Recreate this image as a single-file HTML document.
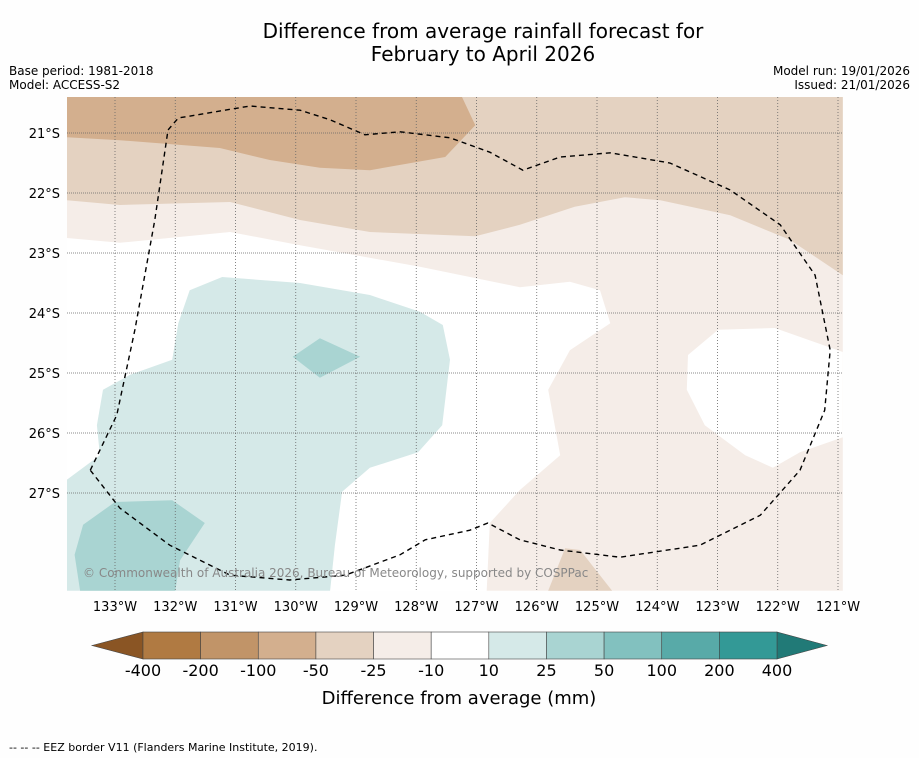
<!DOCTYPE html>
<html><head><meta charset="utf-8"><style>
body{margin:0;background:#fff;font-family:"Liberation Sans",sans-serif;}
svg text{font-family:"DejaVu Sans","Liberation Sans",sans-serif;}
</style></head><body>
<svg id="chart" width="919" height="758" viewBox="0 0 919 758" xmlns="http://www.w3.org/2000/svg">
<rect width="919" height="758" fill="#fefefe"/>
<text x="483" y="38" font-size="20" text-anchor="middle">Difference from average rainfall forecast for</text>
<text x="483" y="61" font-size="20" text-anchor="middle">February to April 2026</text>
<text x="9" y="75" font-size="12">Base period: 1981-2018</text>
<text x="9" y="89" font-size="12">Model: ACCESS-S2</text>
<text x="910" y="75" font-size="12" text-anchor="end">Model run: 19/01/2026</text>
<text x="910" y="89" font-size="12" text-anchor="end">Issued: 21/01/2026</text>
<defs><clipPath id="mapclip"><rect x="67" y="97" width="776" height="494"/></clipPath></defs>
<g id="map" clip-path="url(#mapclip)"><rect x="67" y="97" width="776" height="494" fill="#fff"/></g>
<g id="grid"></g>
<g id="eez"></g>
<text x="83" y="577" font-size="12" fill="#888">© Commonwealth of Australia 2026, Bureau of Meteorology, supported by COSPPac</text>
<g id="axes"></g>
<g id="cbar"></g>
<text x="459" y="704" font-size="18" text-anchor="middle">Difference from average (mm)</text>
<text x="9" y="751" font-size="11">--  --  -- EEZ border V11 (Flanders Marine Institute, 2019).</text>
</svg>
<script>
const lonTicks=[-133,-132,-131,-130,-129,-128,-127,-126,-125,-124,-123,-122,-121];
const latTicks=[-21,-22,-23,-24,-25,-26,-27];
const levelLabels=["-400","-200","-100","-50","-25","-10","10","25","50","100","200","400"];
const levelColors=["#b07a42","#c19468","#d3af8e","#e4d2c1","#f5ede8","#ffffff","#d5e9e8","#a9d4d2","#82c1bf","#58aaa8","#339996"];
const extLow="#8a5524", extHigh="#217a77";
// contour regions [lon,lat]
const regionM10=[[-133.8,-20.4],[-120.92,-20.4],[-120.92,-28.63],[-126.83,-28.63],[-126.78,-27.5],[-126.28,-26.95],[-125.61,-26.37],[-125.81,-25.28],[-125.45,-24.62],[-124.78,-24.17],[-124.95,-23.62],[-125.45,-23.48],[-126.28,-23.57],[-127.94,-23.23],[-129.93,-22.87],[-131.09,-22.65],[-132.92,-22.83],[-133.8,-22.75]];
const holeWhite=[[-122.99,-24.28],[-122.05,-24.25],[-120.92,-24.65],[-120.92,-26.07],[-121.63,-26.32],[-122.08,-26.58],[-122.54,-26.37],[-123.21,-25.87],[-123.51,-25.28],[-123.49,-24.7]];
const regionM25=[[-133.8,-20.4],[-120.92,-20.4],[-120.92,-23.37],[-121.8,-22.78],[-122.79,-22.37],[-123.95,-22.12],[-124.54,-22.07],[-125.37,-22.23],[-126.28,-22.53],[-127.02,-22.72],[-128.77,-22.65],[-129.93,-22.45],[-131.09,-22.15],[-132.92,-22.2],[-133.8,-22.12]];
const regionM25b=[[-125.81,-28.63],[-125.53,-27.92],[-125.28,-27.95],[-124.75,-28.63]];
const regionM50=[[-133.8,-20.4],[-127.24,-20.4],[-127.02,-20.87],[-127.52,-21.4],[-128.77,-21.62],[-129.6,-21.58],[-130.43,-21.45],[-131.26,-21.25],[-132.92,-21.12],[-133.8,-21.07]];
const regionP10=[[-133.8,-26.78],[-133.25,-26.37],[-133.3,-25.87],[-133.2,-25.28],[-132.75,-25.03],[-132.05,-24.78],[-131.95,-24.17],[-131.76,-23.62],[-131.22,-23.4],[-129.93,-23.5],[-128.77,-23.7],[-127.94,-23.98],[-127.56,-24.2],[-127.44,-24.78],[-127.57,-25.87],[-127.97,-26.32],[-128.77,-26.58],[-129.23,-26.98],[-129.35,-27.87],[-129.43,-28.63],[-133.8,-28.63]];
const regionP25a=[[-133.53,-27.53],[-133,-27.15],[-132.05,-27.12],[-131.51,-27.5],[-131.92,-28.12],[-132,-28.63],[-133.58,-28.63],[-133.67,-28.03]];
const regionP25b=[[-130.05,-24.73],[-129.6,-24.42],[-128.93,-24.73],[-129.6,-25.08]];
const eezLine=[[-133.41,-26.62],[-132.97,-25.7],[-132.67,-24.28],[-132.34,-22.45],[-132.12,-20.95],[-131.95,-20.75],[-130.76,-20.55],[-129.93,-20.62],[-129.43,-20.78],[-128.85,-21.03],[-128.27,-20.98],[-127.44,-21.08],[-126.78,-21.32],[-126.23,-21.62],[-125.61,-21.4],[-124.78,-21.33],[-123.79,-21.5],[-122.79,-21.95],[-121.96,-22.53],[-121.38,-23.37],[-121.13,-24.62],[-121.22,-25.62],[-121.63,-26.62],[-122.29,-27.37],[-123.29,-27.87],[-124.62,-28.07],[-125.61,-27.95],[-126.28,-27.78],[-126.81,-27.5],[-127.11,-27.62],[-127.85,-27.78],[-128.27,-28.03],[-129.18,-28.37],[-130.1,-28.45],[-131.09,-28.37],[-132.09,-27.87],[-132.92,-27.25],[-133.41,-26.62]];
const NS="http://www.w3.org/2000/svg";
const xS=lon=>115+(lon+133)*60.25;
const yS=lat=>133+(-21-lat)*60;
function pts(a){return a.map(p=>xS(p[0]).toFixed(1)+","+yS(p[1]).toFixed(1)).join(" ");}
function mk(tag,attrs,parent){const e=document.createElementNS(NS,tag);for(const k in attrs)e.setAttribute(k,attrs[k]);parent.appendChild(e);return e;}
const map=document.getElementById('map');
function region(a,fill,name){const e=mk('polygon',{points:pts(a),fill:fill},map);

}
region(regionM10,levelColors[4],'region-minus10-to-minus25');
region(holeWhite,"#ffffff",'region-near-average-east');
region(regionM25,levelColors[3],'region-minus25-to-minus50');
region(regionM25b,levelColors[3],'region-minus25-south');
region(regionM50,levelColors[2],'region-minus50-to-minus100');
region(regionP10,levelColors[6],'region-plus10-to-plus25');
region(regionP25a,levelColors[7],'region-plus25-southwest');
region(regionP25b,levelColors[7],'region-plus25-central');
const grid=document.getElementById('grid');
lonTicks.forEach(l=>{const e=mk('line',{x1:xS(l),x2:xS(l),y1:97,y2:591,stroke:"#666","stroke-width":0.8,"stroke-dasharray":"1,2"},grid);

});
latTicks.forEach(l=>{const e=mk('line',{x1:67,x2:843,y1:yS(l),y2:yS(l),stroke:"#666","stroke-width":0.8,"stroke-dasharray":"1,1"},grid);

});
const eez=mk('polyline',{points:pts(eezLine),fill:"none",stroke:"#000","stroke-width":1.4,"stroke-dasharray":"5,4"},document.getElementById('eez'));


const axes=document.getElementById('axes');
lonTicks.forEach(l=>{const t=mk('text',{x:xS(l),y:611,"font-size":13,"text-anchor":"middle"},axes);t.textContent=Math.abs(l)+"°W";

});
latTicks.forEach(l=>{const t=mk('text',{x:60,y:yS(l)+5,"font-size":13,"text-anchor":"end"},axes);t.textContent=Math.abs(l)+"°S";

});
const cb=document.getElementById('cbar');
const cx0=143,cw=(777-143)/levelColors.length,cy=632,ch=27;
const lo=mk('polygon',{points:`92,${cy+ch/2} ${cx0},${cy} ${cx0},${cy+ch}`,fill:extLow,stroke:"#444","stroke-width":0.6},cb);


const hi=mk('polygon',{points:`827,${cy+ch/2} 777,${cy} 777,${cy+ch}`,fill:extHigh,stroke:"#444","stroke-width":0.6},cb);


levelColors.forEach((c,i)=>{const r=mk('rect',{x:cx0+i*cw,y:cy,width:cw,height:ch,fill:c,stroke:"#444","stroke-width":0.6},cb);

});
levelLabels.forEach((s,i)=>{const t=mk('text',{x:cx0+i*cw,y:676,"font-size":16,"text-anchor":"middle"},cb);t.textContent=s;

});
</script>
</body></html>
